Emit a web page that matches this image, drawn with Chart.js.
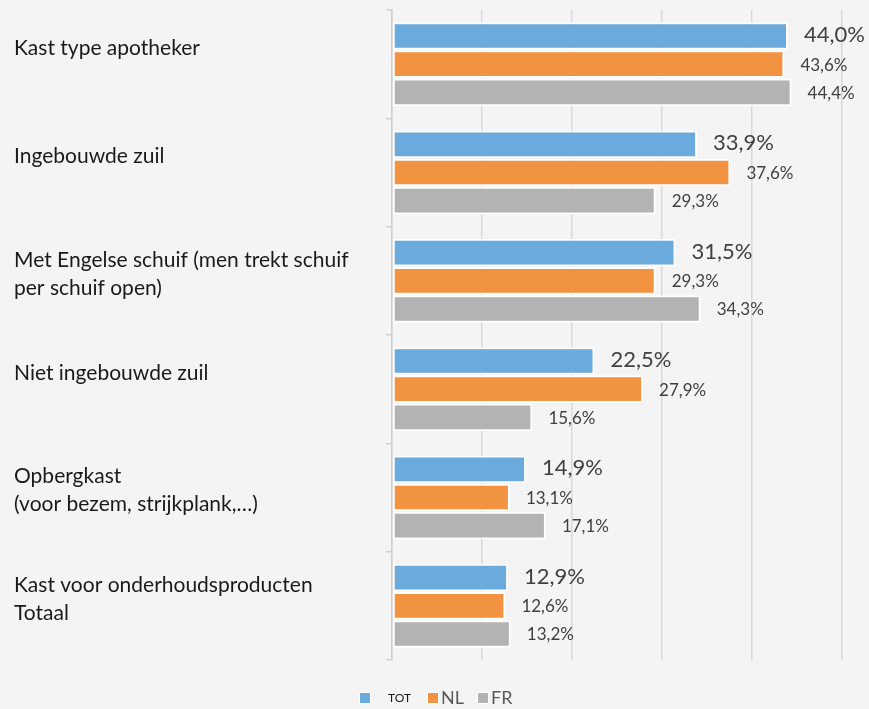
<!DOCTYPE html>
<html>
<head>
<meta charset="utf-8">
<script src="https://cdn.jsdelivr.net/npm/chart.js@4"></script>
<style>
  html, body { margin: 0; padding: 0; background: #f4f4f4; }
  #wrap { width: 869px; height: 709px; position: relative; }
</style>
</head>
<body>
<div id="wrap"><canvas id="chart"></canvas></div>
<script>
// categories (each entry = lines of the label)
const categories = [
    ['Kast type apotheker'],
    ['Ingebouwde zuil'],
    ['Met Engelse schuif (men trekt schuif', 'per schuif open)'],
    ['Niet ingebouwde zuil'],
    ['Opbergkast', '(voor bezem, strijkplank,\u2026)'],
    ['Kast voor onderhoudsproducten', 'Totaal']
];
const seriesNames = ['TOT', 'NL', 'FR'];
const totValues = [44.0, 33.9, 31.5, 22.5, 14.9, 12.9];
const nlValues = [43.6, 37.6, 29.3, 27.9, 13.1, 12.6];
const frValues = [44.4, 29.3, 34.3, 15.6, 17.1, 13.2];
const seriesColors = ['#6aaadc', '#f29342', '#b3b3b3'];

const FONT = "Lato, 'Open Sans', sans-serif";
const TEXT = '#404040';

// draws category labels, value labels and the legend
const drawExtras = {
    id: 'drawExtras',
    afterDatasetsDraw(chart) {
        const ctx = chart.ctx;
        const yScale = chart.scales.y;
        ctx.save();
        // category labels, left aligned
        ctx.fillStyle = '#1a1a1a';
        ctx.font = '21px ' + FONT;
        ctx.textAlign = 'left';
        ctx.textBaseline = 'middle';
        categories.forEach((lines, i) => {
            const yc = yScale.getPixelForValue(i);
            if (lines.length === 1) {
                ctx.fillText(lines[0], 14, yc - 16);
            } else {
                ctx.fillText(lines[0], 14, yc - 21);
                ctx.fillText(lines[1], 14, yc + 7);
            }
        });
        // value labels
        chart.data.datasets.forEach((ds, di) => {
            const meta = chart.getDatasetMeta(di);
            meta.data.forEach((bar, i) => {
                const txt = ds.data[i].toFixed(1).replace('.', ',') + '%';
                ctx.fillStyle = TEXT;
                if (di === 0) {
                    ctx.font = '22px ' + FONT;
                    ctx.fillText(txt, bar.x + 16, bar.y - 1);
                } else {
                    ctx.font = '17px ' + FONT;
                    ctx.fillText(txt, bar.x + 16, bar.y + 1);
                }
            });
        });
        // legend
        const ly = 698;
        const items = [
            { box: 360, tx: 388, font: '12px ' + FONT },
            { box: 428, tx: 441, font: '18px ' + FONT },
            { box: 478, tx: 491, font: '18px ' + FONT }
        ];
        items.forEach((it, i) => {
            ctx.fillStyle = '#ffffff';
            ctx.fillRect(it.box - 1, ly - 6, 12, 12);
            ctx.fillStyle = seriesColors[i];
            ctx.fillRect(it.box, ly - 5, 10, 10);
            ctx.fillStyle = i === 0 ? '#1a1a1a' : '#595959';
            ctx.font = it.font;
            ctx.fillText(seriesNames[i], it.tx, ly);
        });
        ctx.restore();
    }
};

const bg = {
    id: 'bg',
    beforeDraw(chart) {
        const ctx = chart.ctx;
        ctx.save();
        ctx.fillStyle = '#f4f4f4';
        ctx.fillRect(0, 0, chart.width, chart.height);
        ctx.restore();
    }
};

new Chart(document.getElementById('chart'), {
    type: 'bar',
    data: {
        labels: categories.map(l => l.join(' ')),
        datasets: [totValues, nlValues, frValues].map((vals, i) => ({
            label: seriesNames[i],
            data: vals,
            backgroundColor: seriesColors[i],
            borderColor: '#ffffff',
            borderWidth: 2,
            borderSkipped: false,
            categoryPercentage: 0.78,
            barPercentage: 0.98
        }))
    },
    options: {
        indexAxis: 'y',
        responsive: true,
        maintainAspectRatio: false,
        animation: false,
        layout: { padding: { left: 386, right: 27, top: 10, bottom: 49 } },
        plugins: {
            legend: { display: false },
            tooltip: { enabled: false }
        },
        scales: {
            x: {
                min: 0,
                max: 50,
                ticks: { display: false, stepSize: 10 },
                grid: { color: '#d9d9d9', lineWidth: 1.5, drawTicks: false },
                border: { display: false }
            },
            y: {
                ticks: { display: false },
                grid: { display: true, drawOnChartArea: false, tickLength: 6, color: '#d0d0d0', lineWidth: 1.5 },
                border: { display: true, color: '#d0d0d0', width: 1.5 }
            }
        }
    },
    plugins: [bg, drawExtras]
});
</script>
</body>
</html>
